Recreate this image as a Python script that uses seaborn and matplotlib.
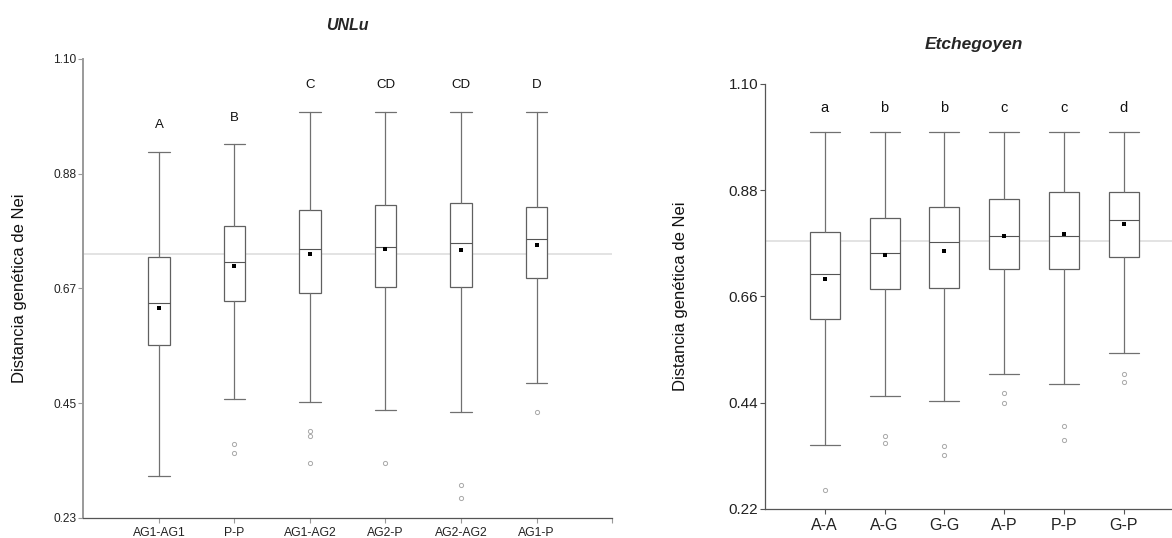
"""
Boxplots of Nei genetic distance for two populations (UNLu, Etchegoyen)
"""

import numpy as np
import pandas as pd
import matplotlib
matplotlib.use("Agg")
import matplotlib.pyplot as plt
import seaborn as sns

# === Data: UNLu ===
unlu_groups = ["AG1-AG1", "P-P", "AG1-AG2", "AG2-P", "AG2-AG2", "AG1-P"]
unlu_letters = ["A", "B", "C", "CD", "CD", "D"]
unlu_lo = [0.309, 0.456, 0.450, 0.435, 0.430, 0.485]
unlu_q1 = [0.557, 0.642, 0.656, 0.668, 0.668, 0.685]
unlu_med = [0.638, 0.715, 0.740, 0.743, 0.751, 0.758]
unlu_q3 = [0.725, 0.784, 0.813, 0.823, 0.827, 0.819]
unlu_hi = [0.924, 0.938, 1.000, 1.000, 1.000, 1.000]
unlu_mean = [0.628, 0.708, 0.730, 0.740, 0.737, 0.747]
unlu_outliers = [[], [0.370, 0.354], [0.395, 0.386, 0.335], [0.335], [0.292, 0.268], [0.430]]
unlu_ref = 0.730
unlu_yticklabels = ["0.23", "0.45", "0.67", "0.88", "1.10"]

# === Data: Etchegoyen ===
etch_groups = ["A-A", "A-G", "G-G", "A-P", "P-P", "G-P"]
etch_letters = ["a", "b", "b", "c", "c", "d"]
etch_lo = [0.352, 0.453, 0.444, 0.500, 0.478, 0.543]
etch_q1 = [0.613, 0.676, 0.677, 0.716, 0.716, 0.742]
etch_med = [0.706, 0.749, 0.772, 0.785, 0.785, 0.818]
etch_q3 = [0.793, 0.823, 0.846, 0.862, 0.876, 0.876]
etch_hi = [1.000, 1.000, 1.000, 1.000, 1.000, 1.000]
etch_mean = [0.695, 0.746, 0.753, 0.786, 0.789, 0.809]
etch_outliers = [[0.258], [0.371, 0.356], [0.350, 0.332], [0.460, 0.440], [0.391, 0.362], [0.500, 0.482]]
etch_ref = 0.775
etch_yticklabels = ["0.22", "0.44", "0.66", "0.88", "1.10"]

YLABEL = "Distancia genética de Nei"

sns.set_style("ticks")
plt.rcParams["font.family"] = ["Liberation Sans", "DejaVu Sans"]


def draw_panel(ax, groups, lo, q1, med, q3, hi, mean, outliers, letters, ref,
               ylim, yticklabels, box_w, fs_tick, fs_xtick, fs_letter, spine_col):
    stats = [
        dict(whislo=lo[i], q1=q1[i], med=med[i], q3=q3[i], whishi=hi[i], fliers=[])
        for i in range(len(groups))
    ]
    pos = np.arange(len(groups))
    ax.axhline(ref, color="#dedede", lw=1.2, zorder=0)
    ax.bxp(
        stats, positions=pos, widths=box_w, showfliers=False, patch_artist=True,
        boxprops=dict(facecolor="white", edgecolor="#606060", linewidth=0.9),
        medianprops=dict(color="#555555", linewidth=0.8),
        whiskerprops=dict(color="#707070", linewidth=0.9),
        capprops=dict(color="#707070", linewidth=0.9),
        capwidths=box_w, zorder=2, manage_ticks=False,
    )

    # outliers and means through seaborn's categorical axis
    out_df = pd.DataFrame(
        [(g, v) for g, vals in zip(groups, outliers) for v in vals],
        columns=["group", "value"],
    )
    sns.stripplot(data=out_df, x="group", y="value", order=groups, jitter=False,
                  size=3.0, color="white", edgecolor="#a8a8a8", linewidth=0.7,
                  ax=ax, zorder=3)
    mean_df = pd.DataFrame({"group": groups, "value": mean})
    sns.stripplot(data=mean_df, x="group", y="value", order=groups, jitter=False,
                  marker="s", size=2.5, color="black", linewidth=0, ax=ax, zorder=4)

    # significance letters above the upper whiskers
    for i, (let, h) in enumerate(zip(letters, hi)):
        ax.text(i, h + 0.05, let, ha="center", va="center", fontsize=fs_letter,
                color="#111111")

    ax.set_xlim(-1, 6)
    ax.set_ylim(*ylim)
    ax.set_yticks(np.linspace(ylim[0], ylim[1], 5))
    ax.set_yticklabels(yticklabels, fontsize=fs_tick, color="#222222")
    ax.set_xticks(list(pos) + [6])
    ax.set_xticklabels(groups + [""], fontsize=fs_xtick, color="#222222")
    ax.set_xlabel("")
    ax.set_ylabel(YLABEL, fontsize=12, color="#111111")
    ax.tick_params(axis="both", direction="out", length=3.5, width=0.8,
                   color=spine_col, pad=3)
    ax.tick_params(axis="y", pad=1.5)
    sns.despine(ax=ax)
    ax.spines["bottom"].set_color("#555555")
    ax.spines["bottom"].set_linewidth(0.9)
    ax.spines["left"].set_color(spine_col)


fig = plt.figure(figsize=(11.72, 5.38), dpi=100)
ax1 = fig.add_axes([0.0712, 0.0372, 0.4510, 0.8532])
ax2 = fig.add_axes([0.6527, 0.0545, 0.3572, 0.7894])

draw_panel(ax1, unlu_groups, unlu_lo, unlu_q1, unlu_med, unlu_q3, unlu_hi,
           unlu_mean, unlu_outliers, unlu_letters, unlu_ref, (0.23, 1.10),
           unlu_yticklabels, 0.29, 8.6, 8.8, 9.5, "#9a9a9a")
ax1.spines["left"].set_linewidth(1.4)
ax1.yaxis.set_label_coords(-0.106, 0.5)
ax1.set_title("UNLu", fontsize=11.5, fontweight="bold", fontstyle="italic", pad=20.5)

draw_panel(ax2, etch_groups, etch_lo, etch_q1, etch_med, etch_q3, etch_hi,
           etch_mean, etch_outliers, etch_letters, etch_ref, (0.22, 1.10),
           etch_yticklabels, 0.5, 11, 11.5, 10.5, "#555555")
ax2.spines["left"].set_linewidth(0.9)
ax2.yaxis.set_label_coords(-0.185, 0.5)
ax2.set_title("Etchegoyen", fontsize=12.5, fontweight="bold", fontstyle="italic", pad=25)

fig.savefig("out.png", dpi=100)
